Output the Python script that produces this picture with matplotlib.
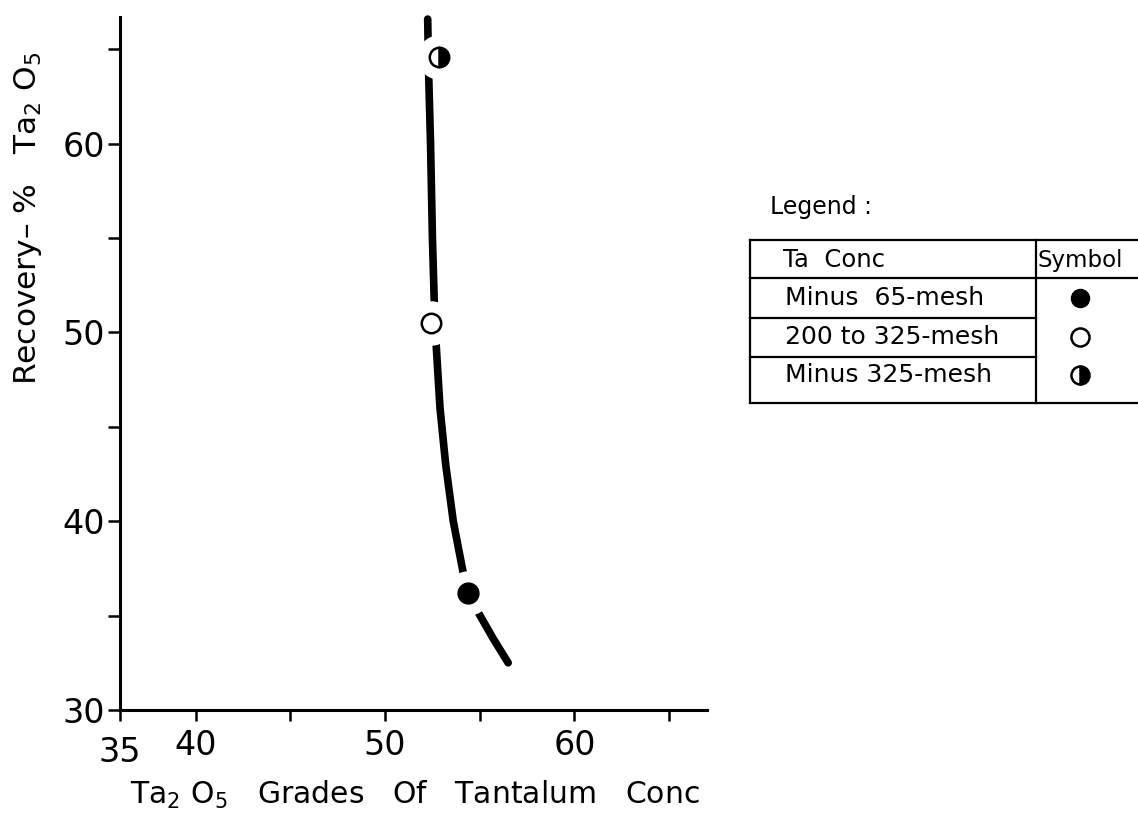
import matplotlib
matplotlib.use("Agg")
import matplotlib.pyplot as plt

# datos
curve_grade = [52.25, 52.3, 52.4, 52.5, 52.6, 52.7, 52.9, 53.2, 53.6, 54.1, 54.4, 54.9, 55.7, 56.5]
curve_rec = [66.6, 63.7, 60.0, 55.0, 51.5, 49.3, 46.0, 43.0, 40.0, 37.4, 36.2, 35.2, 33.8, 32.5]

grade_65 = [54.4]     # Minus 65-mesh
rec_65 = [36.2]
grade_200 = [52.45]   # 200 to 325-mesh
rec_200 = [50.5]
grade_325 = [52.85]   # Minus 325-mesh
rec_325 = [64.6]

x_major = [36.0, 40, 50, 60]          # el origen se rotula 35
x_major_labels = ['35', '40', '50', '60']
x_minor = [45, 55, 65]
y_major = [30, 40, 50, 60]
y_minor = [35, 45, 55, 65]

legend_rows = ['Minus  65-mesh', '200 to 325-mesh', 'Minus 325-mesh']

plt.rcParams['font.family'] = ['DejaVu Sans']
plt.rcParams['mathtext.default'] = 'regular'

fig = plt.figure(figsize=(11.38, 8.18), dpi=100)
ax = fig.add_axes([0.1054, 0.132, 0.5159, 0.847])

ax.plot(curve_grade, curve_rec, color='black', lw=5.5, solid_capstyle='round', clip_on=False, zorder=2)
# huecos blancos alrededor de los simbolos
for gx, ry in [(grade_65, rec_65), (grade_200, rec_200), (grade_325, rec_325)]:
    ax.plot(gx, ry, 'o', ms=31, mfc='white', mec='white', zorder=3)
ax.plot(grade_65, rec_65, 'o', ms=15, mfc='black', mec='black', zorder=4)
ax.plot(grade_200, rec_200, 'o', ms=14, mfc='white', mec='black', mew=1.8, zorder=4)
ax.plot(grade_325, rec_325, 'o', ms=14, fillstyle='right', mfc='black', mfcalt='white',
        mec='black', mew=1.8, zorder=4)

ax.set_xlim(36.0, 67.0)
ax.set_ylim(30, 66.7)
ax.set_xticks(x_major)
ax.set_xticklabels(x_major_labels)
ax.set_xticks(x_minor, minor=True)
ax.set_yticks(y_major)
ax.set_yticks(y_minor, minor=True)

ax.spines['top'].set_visible(False)
ax.spines['right'].set_visible(False)
ax.spines['left'].set_linewidth(2.2)
ax.spines['bottom'].set_linewidth(2.2)
ax.tick_params(axis='both', which='both', direction='out', width=1.8, labelsize=24)
ax.tick_params(axis='x', which='both', length=8, pad=6)
ax.tick_params(axis='y', which='both', length=9, pad=2)
ax.get_xticklabels()[0].set_y(-0.01)

fig.text(415 / 1138, 1 - 795 / 818, 'Ta$_2$ O$_5$   Grades   Of   Tantalum   Conc',
         fontsize=21.5, ha='center', va='center')
fig.text(28 / 1138, 1 - 218 / 818, 'Recovery\u2013 %   Ta$_2$ O$_5$',
         fontsize=22.5, ha='center', va='center', rotation=90)

# tabla de la leyenda, en pixeles
lax = fig.add_axes([0, 0, 1, 1])
lax.set_xlim(0, 1138)
lax.set_ylim(818, 0)
lax.axis('off')
lw = 1.6
lax.text(770, 207, 'Legend :', fontsize=17, va='center')
lax.plot([750, 1138], [240, 240], color='black', lw=lw)
lax.plot([750, 1138], [278, 278], color='black', lw=lw)
lax.plot([750, 1036], [318, 318], color='black', lw=lw)
lax.plot([750, 1036], [357, 357], color='black', lw=lw)
lax.plot([750, 1138], [403, 403], color='black', lw=lw)
lax.plot([750, 750], [240, 403], color='black', lw=lw)
lax.plot([1036, 1036], [240, 403], color='black', lw=lw)
lax.text(783, 260, 'Ta  Conc', fontsize=17.5, va='center')
lax.text(1038, 260, 'Symbol', fontsize=16.5, va='center')
row_y = [298, 337, 375]
for name, yy in zip(legend_rows, row_y):
    lax.text(785, yy, name, fontsize=18, va='center')
lax.plot([1080], [row_y[0]], 'o', ms=13, mfc='black', mec='black')
lax.plot([1080], [row_y[1]], 'o', ms=13, mfc='white', mec='black', mew=1.8)
lax.plot([1080], [row_y[2]], 'o', ms=13, fillstyle='right', mfc='black', mfcalt='white',
         mec='black', mew=1.8)

fig.savefig('out.png', dpi=100)
